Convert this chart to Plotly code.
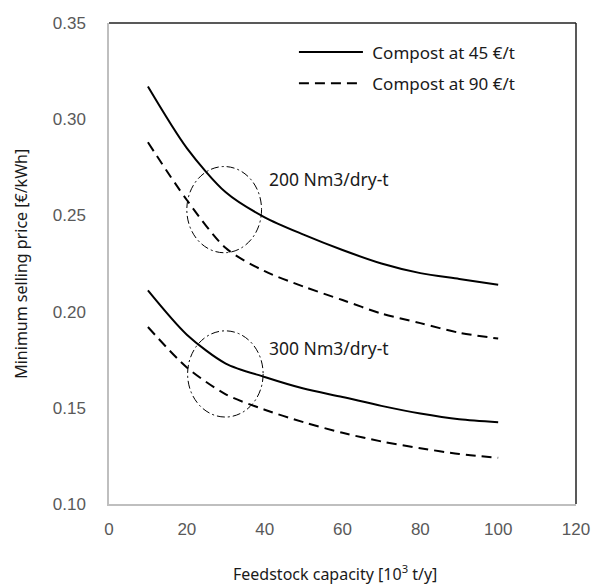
import plotly.graph_objects as go

# Data
capacity = [10, 20, 30, 40, 50, 60, 70, 80, 90, 100]
msp_200_c45 = [0.317, 0.285, 0.262, 0.249, 0.240, 0.232, 0.225, 0.220, 0.217, 0.214]
msp_200_c90 = [0.288, 0.258, 0.233, 0.221, 0.213, 0.206, 0.199, 0.194, 0.189, 0.186]
msp_300_c45 = [0.211, 0.188, 0.173, 0.166, 0.160, 0.1556, 0.151, 0.147, 0.144, 0.1425]
msp_300_c90 = [0.192, 0.171, 0.157, 0.149, 0.1425, 0.137, 0.1325, 0.129, 0.126, 0.124]

x_ticks = [0, 20, 40, 60, 80, 100, 120]
y_ticks = [0.10, 0.15, 0.20, 0.25, 0.30, 0.35]

TICK_FONT = dict(family="Liberation Sans, Arial, sans-serif", size=17, color="#595959")
TEXT_FONT = dict(family="Noto Sans, Open Sans, sans-serif", size=16, color="#1a1a1a")
LEGEND_FONT = dict(family="Noto Sans, Open Sans, sans-serif", size=17, color="#1a1a1a")
LABEL_FONT = dict(family="Noto Sans, Open Sans, sans-serif", size=17.5, color="#1a1a1a")

fig = go.Figure()

def add(y, dash, name, group, show):
    fig.add_trace(go.Scatter(
        x=capacity, y=y, mode="lines", name=name, showlegend=show, legendgroup=group,
        line=dict(color="black", width=2, dash=dash, shape="spline", smoothing=0.8),
        hoverinfo="skip"))

add(msp_200_c45, "solid", "\u00a0Compost at 45 €/t", "c45", True)
add(msp_200_c90, "10px,6px", "\u00a0Compost at 90 €/t", "c90", True)
add(msp_300_c45, "solid", "\u00a0Compost at 45 €/t", "c45", False)
add(msp_300_c90, "10px,6px", "\u00a0Compost at 90 €/t", "c90", False)

# Highlight ellipses
ell_style = dict(color="black", width=1, dash="8px,3px,2px,3px")
fig.add_shape(type="circle", xref="x", yref="y", x0=20.0, x1=39.2, y0=0.2306, y1=0.2754, line=ell_style)
fig.add_shape(type="circle", xref="x", yref="y", x0=20.2, x1=39.6, y0=0.1452, y1=0.1900, line=ell_style)

fig.add_annotation(x=40.7, y=0.269, text="200 Nm3/dry-t", showarrow=False, xanchor="left",
                   yanchor="middle", font=LABEL_FONT)
fig.add_annotation(x=40.7, y=0.181, text="300 Nm3/dry-t", showarrow=False, xanchor="left",
                   yanchor="middle", font=LABEL_FONT)

# Axis titles
fig.add_annotation(xref="paper", yref="paper", x=0.484, y=-0.1436, text="Feedstock capacity [10<sup>3</sup> t/y]",
                   showarrow=False, xanchor="center", yanchor="middle", font=TEXT_FONT)
fig.add_annotation(xref="paper", yref="paper", x=-0.19, y=0.5, text="Minimum selling price [€/kWh]",
                   showarrow=False, xanchor="center", yanchor="middle", textangle=-90, font=TEXT_FONT)

# Plot-area border (top and right) in black
fig.add_shape(type="line", xref="paper", yref="paper", x0=0, x1=1, y0=1, y1=1,
              line=dict(color="#222222", width=1.5))
fig.add_shape(type="line", xref="paper", yref="paper", x0=1, x1=1, y0=0, y1=1,
              line=dict(color="#222222", width=1.5))

fig.update_layout(
    width=602, height=585,
    margin=dict(l=109, r=18, t=23, b=81),
    plot_bgcolor="white", paper_bgcolor="white",
    showlegend=True,
    legend=dict(x=0.396, y=0.976, xanchor="left", yanchor="top", bgcolor="rgba(0,0,0,0)",
                font=LEGEND_FONT, tracegroupgap=6, itemwidth=64),
    xaxis=dict(range=[0, 120], tickvals=x_ticks, ticktext=[str(v) for v in x_ticks],
               showgrid=False, zeroline=False, showline=True, linecolor="#BFBFBF", linewidth=1.5,
               ticks="", tickfont=TICK_FONT, ticklabelstandoff=9),
    yaxis=dict(range=[0.10, 0.35], tickvals=y_ticks, ticktext=[f"{v:.2f}" for v in y_ticks],
               showgrid=False, zeroline=False, showline=True, linecolor="#BFBFBF", linewidth=1.5,
               ticks="", tickfont=TICK_FONT, ticklabelstandoff=18),
)

fig.write_html("out.html")
